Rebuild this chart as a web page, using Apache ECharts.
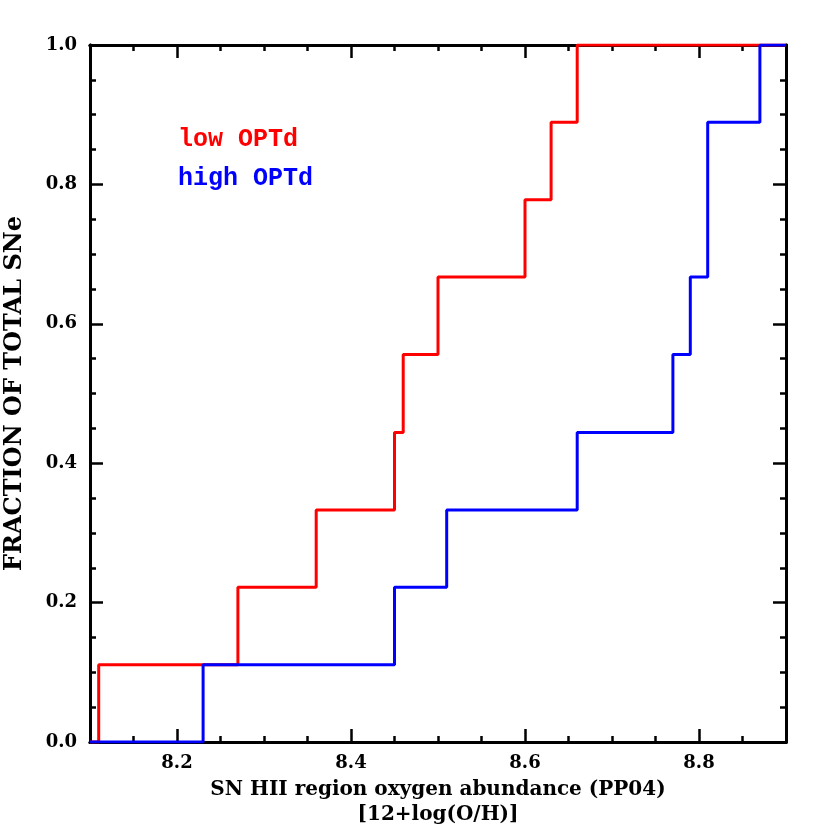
<!DOCTYPE html>
<html>
<head>
<meta charset="utf-8">
<script src="https://cdn.jsdelivr.net/npm/echarts@6/dist/echarts.min.js"></script>
<style>
  html, body { margin: 0; padding: 0; background: #fff; }
  #chart { width: 830px; height: 830px; }
</style>
</head>
<body>
<div id="chart"></div>
<script>
// cumulative fractions
const xMin = 8.1, xMax = 8.9
const redX = [8.11, 8.27, 8.36, 8.45, 8.46, 8.50, 8.60, 8.63, 8.66]
const redY = [0.111, 0.222, 0.333, 0.444, 0.556, 0.667, 0.778, 0.889, 1.0]
const blueX = [8.23, 8.45, 8.51, 8.66, 8.77, 8.79, 8.81, 8.87]
const blueY = [0.111, 0.222, 0.333, 0.444, 0.556, 0.667, 0.889, 1.0]
const xMajor = [8.2, 8.4, 8.6, 8.8]
const yMajor = [0, 0.2, 0.4, 0.6, 0.8, 1.0]

function stepData(xs, ys) {
  const d = [[xMin, 0]]
  xs.forEach((x, i) => d.push([x, ys[i]]))
  d.push([xMax, ys[ys.length - 1]])
  return d
}

const font = 'DejaVu Serif'
const lineW = 3

function xAx(pos, major, labels) {
  return {
    type: 'value', position: pos, min: xMin, max: xMax,
    interval: major ? undefined : 0.05,
    splitLine: { show: false },
    axisLine: { show: true, onZero: false, lineStyle: { color: '#000', width: lineW } },
    axisTick: major
      ? { inside: true, length: 13, lineStyle: { color: '#000', width: 2.5 }, customValues: xMajor }
      : { inside: true, length: 6, lineStyle: { color: '#000', width: 2.5 } },
    axisLabel: labels
      ? { show: true, customValues: xMajor, formatter: (v) => v.toFixed(1), margin: 12,
          fontFamily: font, fontWeight: 'bold', fontSize: 18, color: '#000' }
      : { show: false }
  }
}
function yAx(pos, major, labels) {
  return {
    type: 'value', position: pos, min: 0, max: 1,
    interval: major ? undefined : 0.05,
    splitLine: { show: false },
    axisLine: { show: true, onZero: false, lineStyle: { color: '#000', width: lineW } },
    axisTick: major
      ? { inside: true, length: 13, lineStyle: { color: '#000', width: 2.5 }, customValues: yMajor }
      : { inside: true, length: 6, lineStyle: { color: '#000', width: 2.5 } },
    axisLabel: labels
      ? { show: true, customValues: yMajor, formatter: (v) => v.toFixed(1), margin: 13,
          fontFamily: font, fontWeight: 'bold', fontSize: 18, color: '#000' }
      : { show: false }
  }
}

const chart = echarts.init(document.getElementById('chart'))
const xs = [xAx('bottom', false, true), xAx('bottom', true, false), xAx('top', false, false), xAx('top', true, false)]
xs[0].name = 'SN HII region oxygen abundance (PP04)\n[12+log(O/H)]'
xs[0].nameLocation = 'middle'
xs[0].nameGap = 35
xs[0].nameTextStyle = { fontFamily: font, fontWeight: 'bold', fontSize: 20, color: '#000', lineHeight: 25, verticalAlign: 'top' }
const ys = [yAx('left', false, true), yAx('left', true, false), yAx('right', false, false), yAx('right', true, false)]
ys[0].name = 'FRACTION OF TOTAL SNe'
ys[0].nameLocation = 'middle'
ys[0].nameGap = 63
ys[0].nameTextStyle = { fontFamily: font, fontWeight: 'bold', fontSize: 24, color: '#000' }

chart.setOption({
  animation: false,
  backgroundColor: '#fff',
  grid: { left: 90, right: 44, top: 45, bottom: 88, outerBoundsMode: 'none' },
  xAxis: xs,
  yAxis: ys,
  graphic: [
    { type: 'text', left: 178, top: 127, style: { text: 'low OPTd', fill: '#ff0000', font: 'bold 25px "Liberation Mono"' } },
    { type: 'text', left: 178, top: 166, style: { text: 'high OPTd', fill: '#0000ff', font: 'bold 25px "Liberation Mono"' } }
  ],
  series: [
    { name: 'low OPTd', type: 'line', step: 'end', showSymbol: false, data: stepData(redX, redY),
      lineStyle: { color: '#ff0000', width: 3 }, z: 2 },
    { name: 'high OPTd', type: 'line', step: 'end', showSymbol: false, data: stepData(blueX, blueY),
      lineStyle: { color: '#0000ff', width: 3 }, z: 3 }
  ]
})
</script>
</body>
</html>
